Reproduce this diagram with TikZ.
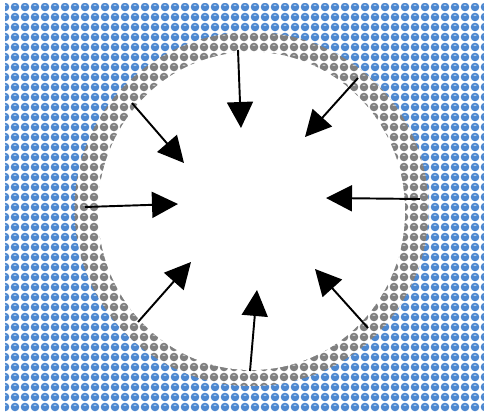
\documentclass[tikz,border=0pt]{standalone}
\usepackage{tikz}
\usetikzlibrary{arrows.meta,patterns.meta}

\definecolor{ballblue}{RGB}{78,136,208}
\definecolor{ballbluehi}{RGB}{185,212,240}
\definecolor{ballgray}{RGB}{128,128,128}
\definecolor{ballgrayhi}{RGB}{205,205,205}

\newcommand{\SpherePattern}[3]{%
	\tikzdeclarepattern{
		name=#1, type=colored,
		bottom left={(0,0)}, top right={(0.2cm,0.2cm)},
		tile size={(0.2cm,0.2cm)},
		code={
			\fill [white] (0,0) rectangle (0.2cm,0.2cm);
			\fill [#2] (0.1cm,0.1cm) circle (0.086cm);
			\fill [#3] (0.1cm,0.135cm) ellipse (0.034cm and 0.015cm);
		}
	}%
}
\SpherePattern{bluesphere}{ballblue}{ballbluehi}
\SpherePattern{graysphere}{ballgray}{ballgrayhi}

\begin{document}
\begin{tikzpicture}[x=0.02cm, y=-0.02cm]
			\tikzstyle{push}=[line width=1.1pt, -{Triangle[length=0.52cm, width=0.52cm]}]

			\useasboundingbox (0,0) rectangle (484,412);

			\fill [pattern=bluesphere] (5,4) rectangle (484,412);
			\fill [pattern=graysphere] (251.5,209) circle (177);
			\fill [white] (251.5,211) ellipse (153.5 and 159);

			\coordinate (N) at (238,50);   \coordinate (Nc) at (241,128);
			\coordinate (NE) at (358,78);  \coordinate (NEc) at (305,137);
			\coordinate (E) at (420,199);  \coordinate (Ec) at (326,198);
			\coordinate (SE) at (368,328); \coordinate (SEc) at (315,269);
			\coordinate (S) at (250,371);  \coordinate (Sc) at (257,290);
			\coordinate (SW) at (138,322); \coordinate (SWc) at (191,262);
			\coordinate (W) at (85,207);   \coordinate (Wc) at (178,204);
			\coordinate (NW) at (132,103); \coordinate (NWc) at (184,163);

			\draw [push] (N) -- (Nc);
			\draw [push] (NE) -- (NEc);
			\draw [push] (E) -- (Ec);
			\draw [push] (SE) -- (SEc);
			\draw [push] (S) -- (Sc);
			\draw [push] (SW) -- (SWc);
			\draw [push] (W) -- (Wc);
			\draw [push] (NW) -- (NWc);
		\end{tikzpicture}
\end{document}
